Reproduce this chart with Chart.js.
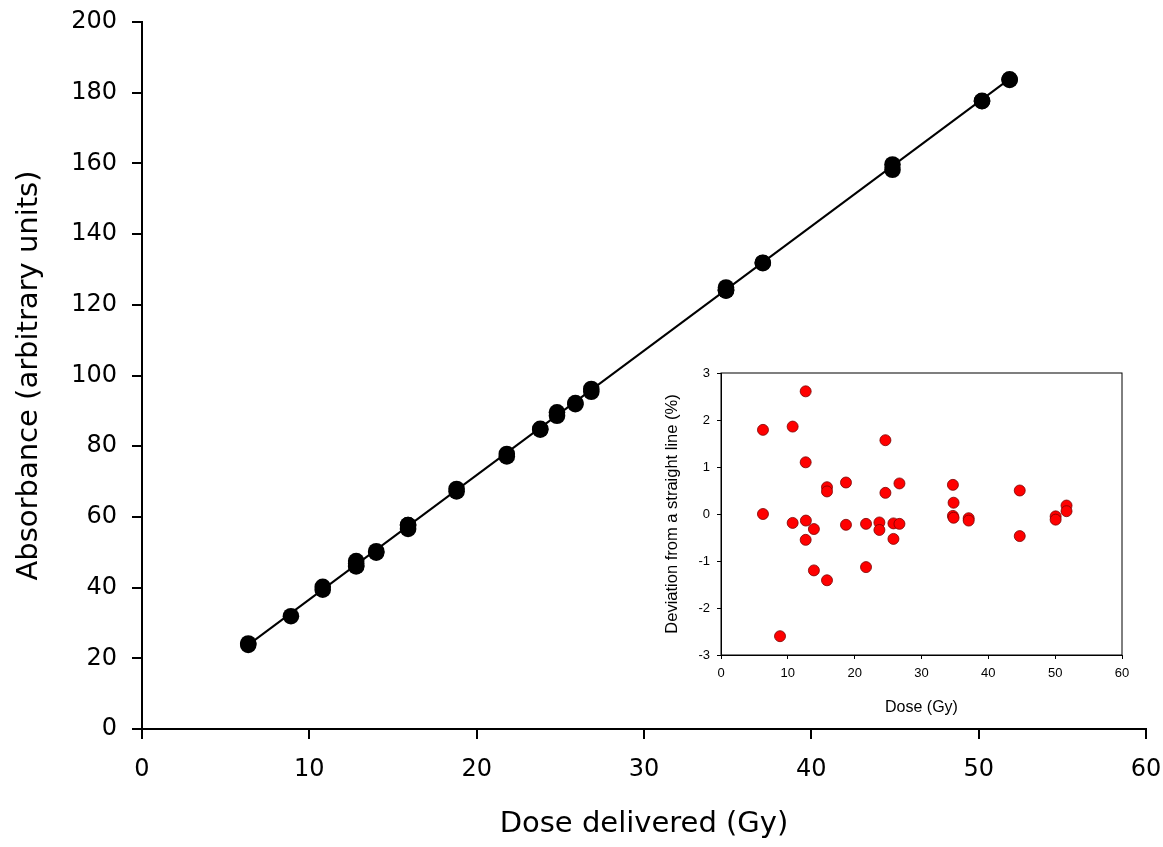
<!DOCTYPE html>
<html>
<head>
<meta charset="utf-8">
<script src="https://cdn.jsdelivr.net/npm/chart.js@4/dist/chart.umd.min.js"></script>
<style>
  html, body { margin: 0; padding: 0; background: #fff; }
  #wrap { position: relative; width: 1163px; height: 847px; }
  #main { position: absolute; left: 0; top: 0; }
  #inset { position: absolute; left: 640px; top: 350px; }
</style>
</head>
<body>
<div id="wrap">
  <canvas id="main" width="1163" height="847"></canvas>
  <canvas id="inset" width="500" height="375"></canvas>
</div>
<script>
// ---- Main chart data: dose (Gy) and absorbance (arbitrary units) ----
const mainDose = [6.35, 6.35, 8.9, 10.8, 10.8, 12.8, 12.8, 12.8, 12.8, 14.0, 14.0,
  15.9, 15.9, 15.9, 18.8, 18.8, 21.8, 21.8, 23.8, 23.8, 24.8, 24.8, 25.9, 25.9,
  26.85, 26.85, 34.9, 34.9, 34.9, 34.9, 37.1, 37.1, 44.85, 44.85, 50.2, 50.2, 51.85, 51.85];
const mainAbs = [24.2, 23.8, 31.9, 40.2, 39.4, 47.5, 46.8, 46.2, 46.0, 50.3, 49.9,
  57.7, 57.7, 56.6, 67.9, 67.2, 77.8, 77.1, 84.9, 84.7, 89.6, 88.6, 92.2, 91.9,
  96.2, 95.4, 124.9, 124.4, 124.1, 124.0, 131.9, 131.8, 159.7, 158.2, 177.7, 177.6, 183.8, 183.6];
// fitted straight line end points (dose, absorbance)
const fitDose = [6.35, 51.85];
const fitAbs = [23.8, 183.9];

// ---- Inset data: dose (Gy) and deviation from straight line (%) ----
const insetDose = [6.28, 6.28, 8.83, 10.72, 10.72, 12.67, 12.67, 12.7, 12.67, 13.9, 13.9,
  15.86, 15.86, 15.86, 18.7, 18.7, 21.7, 21.7, 23.7, 23.7, 24.6, 24.6, 25.8, 25.8,
  26.7, 26.7, 34.7, 34.8, 34.7, 34.8, 37.06, 37.06, 44.7, 44.7, 50.07, 50.07, 51.7, 51.7];
const insetDev = [1.79, 0.0, -2.6, 1.86, -0.19, 2.61, 1.10, -0.14, -0.55, -0.32, -1.2,
  0.57, 0.48, -1.41, 0.67, -0.23, -0.21, -1.13, -0.18, -0.34, 1.57, 0.45, -0.2, -0.53,
  0.65, -0.21, 0.62, 0.24, -0.04, -0.08, -0.09, -0.14, 0.5, -0.47, -0.05, -0.12, 0.18, 0.06];

// tick values
const mainXTicks = [0, 10, 20, 30, 40, 50, 60];
const mainYTicks = [0, 20, 40, 60, 80, 100, 120, 140, 160, 180, 200];
const insetXTicks = [0, 10, 20, 30, 40, 50, 60];
const insetYTicks = [-3, -2, -1, 0, 1, 2, 3];

const FONT = "'DejaVu Sans', 'Liberation Sans', Arial, sans-serif";
const FONT2 = "'Liberation Sans', Arial, Helvetica, sans-serif";

const toPts = (xs, ys) => xs.map((x, i) => ({ x: x, y: ys[i] }));

function fixedTicks(values) {
  return function (axis) { axis.ticks = values.map(v => ({ value: v })); };
}
function fitX(h) {
  return function (s) { s.height = h; s.paddingLeft = 0; s.paddingRight = 0; };
}
function fitY(w) {
  return function (s) { s.width = w; s.paddingTop = 0; s.paddingBottom = 0; };
}

// ---- Main chart ----
new Chart(document.getElementById('main'), {
  type: 'scatter',
  data: {
    datasets: [
      {
        type: 'line',
        data: toPts(fitDose, fitAbs),
        borderColor: '#000',
        borderWidth: 2,
        pointRadius: 0,
        fill: false,
        order: 2
      },
      {
        data: toPts(mainDose, mainAbs),
        backgroundColor: '#000',
        borderColor: '#000',
        borderWidth: 0,
        pointRadius: 8.3,
        order: 1
      }
    ]
  },
  options: {
    responsive: false,
    animation: false,
    devicePixelRatio: 1,
    layout: { padding: { left: 0, right: 17, top: 22, bottom: 0 } },
    plugins: { legend: { display: false }, tooltip: { enabled: false } },
    scales: {
      x: {
        type: 'linear', min: 0, max: 60,
        afterBuildTicks: fixedTicks(mainXTicks),
        afterFit: fitX(118),
        border: { display: true, color: '#000', width: 2 },
        grid: { drawOnChartArea: false, drawTicks: true, tickLength: 10, color: '#000', lineWidth: 2 },
        ticks: { color: '#000', padding: 16, font: { family: FONT, size: 24 }, maxRotation: 0 },
        title: { display: true, text: 'Dose delivered (Gy)', color: '#000',
                 font: { family: FONT, size: 29 }, padding: { top: 0, bottom: 5 } }
      },
      y: {
        type: 'linear', min: 0, max: 200,
        afterBuildTicks: fixedTicks(mainYTicks),
        afterFit: fitY(142),
        border: { display: true, color: '#000', width: 2 },
        grid: { drawOnChartArea: false, drawTicks: true, tickLength: 10, color: '#000', lineWidth: 2 },
        ticks: { color: '#000', padding: 15, font: { family: FONT, size: 24 } },
        title: { display: true, text: 'Absorbance (arbitrary units)', color: '#000',
                 font: { family: FONT, size: 29 }, padding: { top: 12, bottom: 0 } }
      }
    }
  }
});

// ---- Inset chart ----
const boxPlugin = {
  id: 'box',
  afterDraw(chart) {
    const { ctx, chartArea: a } = chart;
    ctx.save();
    ctx.strokeStyle = '#000';
    ctx.lineWidth = 1;
    ctx.strokeRect(a.left, a.top, a.right - a.left, a.bottom - a.top);
    ctx.restore();
  }
};

new Chart(document.getElementById('inset'), {
  type: 'scatter',
  data: {
    datasets: [{
      data: toPts(insetDose, insetDev),
      backgroundColor: '#ff0000',
      borderColor: '#7a0000',
      borderWidth: 0.8,
      pointRadius: 5.5
    }]
  },
  options: {
    responsive: false,
    animation: false,
    devicePixelRatio: 1,
    layout: { padding: { left: 0, right: 18, top: 23, bottom: 0 } },
    plugins: { legend: { display: false }, tooltip: { enabled: false } },
    scales: {
      x: {
        type: 'linear', min: 0, max: 60,
        afterBuildTicks: fixedTicks(insetXTicks),
        afterFit: fitX(70),
        border: { display: true, color: '#000', width: 1 },
        grid: { drawOnChartArea: false, drawTicks: true, tickLength: 4, color: '#000', lineWidth: 1 },
        ticks: { color: '#000', padding: 7, font: { family: FONT2, size: 13 }, maxRotation: 0 },
        title: { display: true, text: 'Dose (Gy)', color: '#000',
                 font: { family: FONT2, size: 16 }, padding: { top: 0, bottom: 8 } }
      },
      y: {
        type: 'linear', min: -3, max: 3,
        afterBuildTicks: fixedTicks(insetYTicks),
        afterFit: fitY(81),
        border: { display: true, color: '#000', width: 1 },
        grid: { drawOnChartArea: false, drawTicks: true, tickLength: 4, color: '#000', lineWidth: 1 },
        ticks: { color: '#000', padding: 7, font: { family: FONT2, size: 13 } },
        title: { display: true, text: 'Deviation from a straight line (%)', color: '#000',
                 font: { family: FONT2, size: 16.5 }, padding: { top: 23, bottom: 0 } }
      }
    }
  },
  plugins: [boxPlugin]
});
</script>
</body>
</html>
